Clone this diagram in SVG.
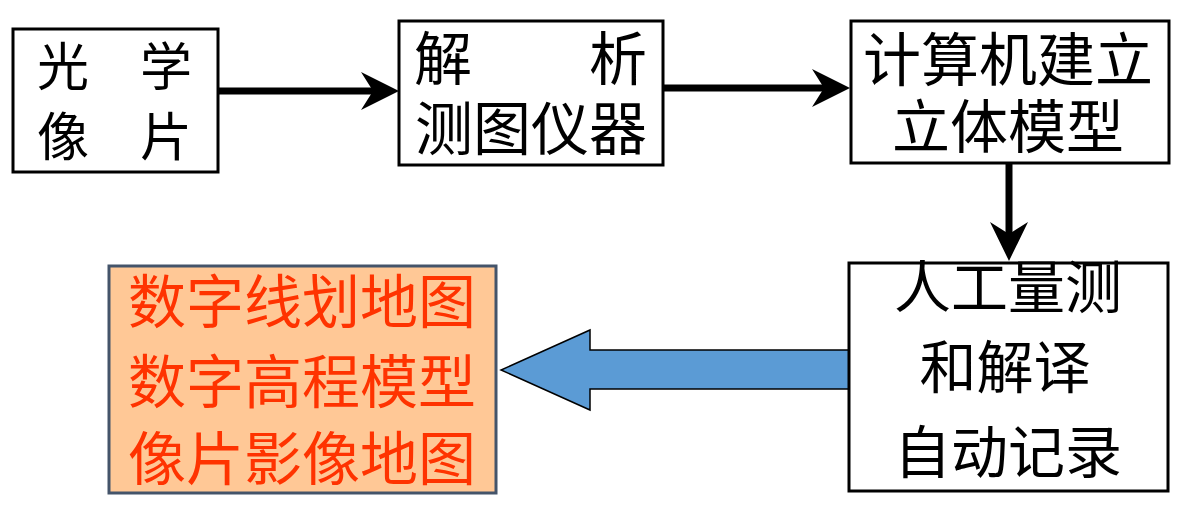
<svg xmlns="http://www.w3.org/2000/svg" width="1192" height="525" viewBox="0 0 1192 525">
<style>
.box{fill:#fff;stroke:#000;stroke-width:3}
.t{font-family:"Noto Sans CJK SC",sans-serif;fill:#000}
.red{font-family:"Noto Sans CJK SC",sans-serif;fill:#FF3300;font-size:58px}
.ln{stroke:#000;stroke-width:7;fill:none}
.hd{fill:#000}
</style>
<rect width="1192" height="525" fill="#fff"/>
<g id="connectors">
<line class="ln" x1="218" y1="91" x2="376" y2="91"/>
<polygon class="hd" points="399,91 361,72 373,91 361,110"/>
<line class="ln" x1="663" y1="88" x2="828" y2="88"/>
<polygon class="hd" points="850,88 812,69 824,88 812,107"/>
<line class="ln" x1="1009" y1="163" x2="1009" y2="238"/>
<polygon class="hd" points="1009,261 990,222 1009,234 1028,222"/>
<polygon points="849,350 590,350 590,330 501,370 590,410 590,389 849,389" fill="#5B9BD5" stroke="#000" stroke-width="1.5"/>
</g>
<g id="n1">
<rect class="box" x="13" y="29" width="205" height="143"/>
<text class="t" font-size="52" x="37" y="86">光</text>
<text class="t" font-size="52" x="192" y="86" text-anchor="end">学</text>
<text class="t" font-size="52" x="37" y="156">像</text>
<text class="t" font-size="52" x="192" y="156" text-anchor="end">片</text>
</g>
<g id="n2">
<rect class="box" x="399" y="21" width="264" height="144"/>
<text class="t" font-size="58" x="414" y="80">解</text>
<text class="t" font-size="58" x="647" y="80" text-anchor="end">析</text>
<text class="t" font-size="58" x="531" y="150" text-anchor="middle">测图仪器</text>
</g>
<g id="n3">
<rect class="box" x="851" y="21" width="318" height="142"/>
<text class="t" font-size="58" x="1008" y="81" text-anchor="middle">计算机建立</text>
<text class="t" font-size="58" x="1008" y="148" text-anchor="middle">立体模型</text>
</g>
<g id="n4">
<rect class="box" x="849" y="263" width="319" height="228"/>
<text class="t" font-size="57" x="1008" y="308" text-anchor="middle">人工量测</text>
<text class="t" font-size="57" x="1005" y="388" text-anchor="middle">和解译</text>
<text class="t" font-size="57" x="1008" y="473" text-anchor="middle">自动记录</text>
</g>
<g id="n5">
<rect x="109" y="266" width="387" height="227" fill="#FFC896" stroke="#44546A" stroke-width="3"/>
<text class="red" x="302" y="323" text-anchor="middle">数字线划地图</text>
<text class="red" x="302" y="403" text-anchor="middle">数字高程模型</text>
<text class="red" x="302" y="480" text-anchor="middle">像片影像地图</text>
</g>
</svg>
